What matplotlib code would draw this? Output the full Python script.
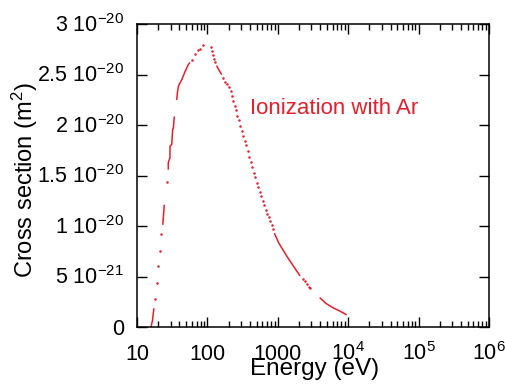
import numpy as np
import matplotlib
matplotlib.use("Agg")
import matplotlib.pyplot as plt
import matplotlib.transforms as mtransforms

plt.rcParams["font.family"] = ["Liberation Sans", "DejaVu Sans"]
plt.rcParams["mathtext.fontset"] = "custom"
plt.rcParams["mathtext.rm"] = "Liberation Sans"
plt.rcParams["mathtext.default"] = "regular"

RED = "#e3202b"

# cross section of Ar ionization
# energy in eV, sigma in units of 1e-20 m^2

# isolated dots
dot_energy = [18.2, 19.05, 20.1, 21.0, 21.9, 26.4,
              59.8, 66.6, 74.2, 78.3, 85.6,
              111, 117, 121, 125, 130,
              168, 180, 192, 205, 214, 223, 231, 244, 255, 266, 278, 290,
              307, 324, 342, 357, 377, 394, 416, 434, 459, 479, 507, 528,
              553, 578, 611, 637, 673, 702, 743, 779, 819, 855,
              2250, 2400, 2600, 2750, 2850]
dot_sigma = [0.28, 0.44, 0.61, 0.76, 0.92, 1.44,
             2.64, 2.70, 2.74, 2.75, 2.79,
             2.77, 2.73, 2.69, 2.65, 2.62,
             2.47, 2.43, 2.41, 2.38, 2.34, 2.29, 2.24, 2.19, 2.15, 2.09, 2.05, 1.99,
             1.946, 1.889, 1.84, 1.80, 1.74, 1.69, 1.64, 1.59, 1.53, 1.49, 1.43, 1.39,
             1.34, 1.30, 1.25, 1.21, 1.16, 1.12, 1.09, 1.05, 1.01, 0.97,
             0.48, 0.455, 0.425, 0.404, 0.394]

# stretches where the dots sit so close they look like a line
run_energy = [
    [15.8, 16.6, 17.0, 17.4],
    [23.2, 23.8, 24.4],
    [27.8, 27.8, 29.4, 29.4, 31.1, 32.1, 32.8, 33.8, 34.6],
    [36.6, 37.6, 38.9, 43.2, 48.1, 53.6, 56.5],
    [135, 142, 150, 160],
    [892, 1034, 1184, 1354, 1566, 1810, 2072],
    [3930, 4810, 6030, 7560, 9500],
]
run_sigma = [
    [0.0, 0.074, 0.134, 0.19],
    [1.015, 1.114, 1.213],
    [1.56, 1.63, 1.68, 1.79, 1.81, 1.96, 1.97, 2.08, 2.08],
    [2.25, 2.33, 2.39, 2.45, 2.53, 2.60, 2.62],
    [2.59, 2.56, 2.53, 2.50],
    [0.933, 0.834, 0.767, 0.701, 0.635, 0.569, 0.51],
    [0.295, 0.239, 0.196, 0.163, 0.125],
]

x_ticks = [10, 100, 1000, 1e4, 1e5, 1e6]
x_labels = ["10", "100", "1000", "$10^4$", "$10^5$", "$10^6$"]
y_ticks = [0, 0.5e-20, 1e-20, 1.5e-20, 2e-20, 2.5e-20, 3e-20]
y_labels = ["0", "5 $10^{-21}$", "1 $10^{-20}$", "1.5 $10^{-20}$",
            "2 $10^{-20}$", "2.5 $10^{-20}$", "3 $10^{-20}$"]

fig = plt.figure(figsize=(5.06, 3.88), dpi=100)
ax = fig.add_axes([0.2708, 0.156, 0.6956, 0.782])

ax.plot(dot_energy, np.array(dot_sigma) * 1e-20, ls="none", marker="o",
        ms=1.8, mew=0, color=RED)
for e, s in zip(run_energy, run_sigma):
    ax.plot(e, np.array(s) * 1e-20, color=RED, lw=1.1, solid_capstyle="butt")

ax.text(400, 2.17e-20, "Ionization with Ar", color=RED, fontsize=16,
        ha="left", va="center")

ax.set_xscale("log")
ax.set_xlim(10, 1e6)
ax.set_ylim(0, 3e-20)

ax.tick_params(which="both", direction="in", top=True, right=True, width=1.0)
ax.tick_params(which="major", length=7)
ax.tick_params(which="minor", length=4)
ax.tick_params(axis="x", which="major", pad=23.5, labelsize=15.5)
ax.tick_params(axis="y", which="major", pad=9.5, labelsize=15.5)

ax.set_xticks(x_ticks)
ax.set_xticklabels(x_labels)
ax.set_yticks(y_ticks)
ax.set_yticklabels(y_labels)
ax.yaxis.set_minor_locator(matplotlib.ticker.NullLocator())

for lab in ax.get_xticklabels():
    lab.set_va("baseline")
shift = mtransforms.ScaledTranslation(0, -5.4 / 72, fig.dpi_scale_trans)
for lab in ax.get_yticklabels():
    lab.set_va("baseline")
    lab.set_transform(lab.get_transform() + shift)

for sp in ax.spines.values():
    sp.set_linewidth(1.1)

ax.set_xlabel("Energy (eV)", fontsize=17.5)
ax.xaxis.set_label_coords(0.503, -0.100)
ax.set_ylabel("Cross section (m$^2$)", fontsize=17)
ax.yaxis.set_label_coords(-0.275, 0.487)

fig.savefig("out.png", dpi=100)
